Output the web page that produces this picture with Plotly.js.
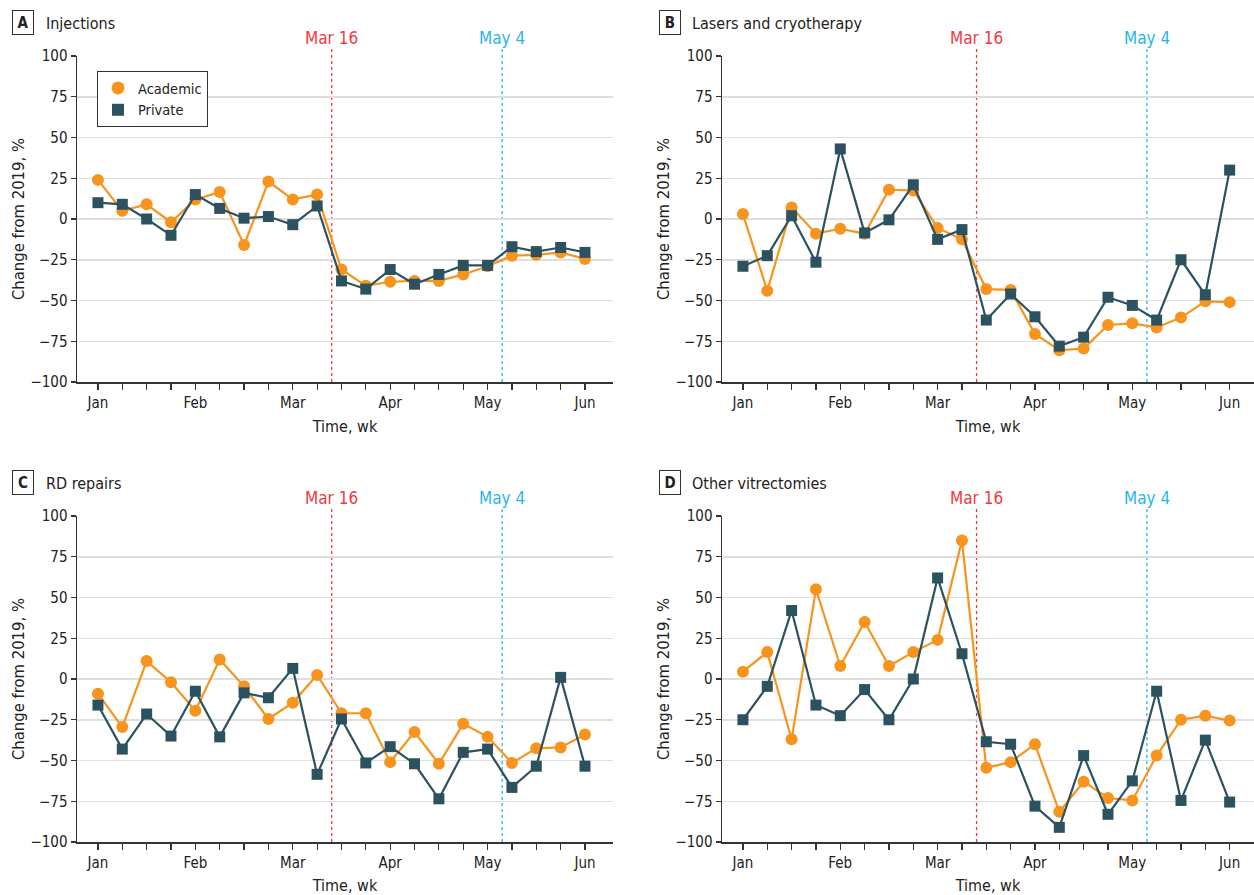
<!DOCTYPE html>
<html>
<head>
<meta charset="utf-8">
<script src="https://cdn.plot.ly/plotly-3.0.1.min.js"></script>
<style>html,body{margin:0;padding:0;background:#fff;}#chart{width:1254px;height:895px;}</style>
</head>
<body>
<div id="chart"></div>
<script>
// ---- data ----
const weeks = [0,1,2,3,4,5,6,7,8,9,10,11,12,13,14,15,16,17,18,19,20];
const tickLabels = ["Jan","","","","Feb","","","","Mar","","","","Apr","","","","May","","","","Jun"];
const panelLetters = ["A","B","C","D"];
const panelNames = ["Injections","Lasers and cryotherapy","RD repairs","Other vitrectomies"];
const seriesNames = ["Academic","Private"];
const eventLabels = ["Mar 16","May 4"];
const eventWeeks = [9.6, 16.6];

const injAcademic = [24,5,9,-2,12,16.5,-16,23,12,15,-31,-41,-38.5,-38,-38,-34,-29,-22.5,-22,-20.5,-24.5];
const injPrivate  = [10,9,0,-10,15,6.5,0.5,1.5,-3.5,8,-38,-43,-31,-40,-34,-28.5,-28.5,-17,-20,-17.5,-20.5];

const lasAcademic = [3,-44,7,-9,-6,-9,18,17.5,-5.5,-12.5,-43,-43.5,-70.5,-80.5,-79.5,-65,-64,-66.5,-60.5,-50.5,-51];
const lasPrivate  = [-29,-22.5,2,-26.5,43,-8.5,-0.5,21,-12.5,-6.5,-62,-46,-60,-78,-72.5,-48,-53,-62,-25,-46.5,30];

const rdAcademic = [-9,-29.5,11,-2,-19.5,12,-4.5,-24.5,-14.5,2.5,-21,-21,-51,-32.5,-52,-27.5,-35.5,-51.5,-42.5,-42,-34];
const rdPrivate  = [-16,-43,-21.5,-35,-7.5,-35.5,-8.5,-11.5,6.5,-58.5,-24.5,-51.5,-41.5,-52,-73.5,-45,-43,-66.5,-53.5,1,-53.5];

const vitAcademic = [4.5,16.5,-37,55,8,35,8,16.5,24,85,-54.5,-51,-40,-81.5,-63,-73,-74.5,-47,-25,-22.5,-25.5];
const vitPrivate  = [-25,-4.5,42,-16,-22.5,-6.5,-25,0,62,15.5,-38.5,-40,-78,-91,-47,-83,-62.5,-7.5,-74.5,-37.5,-75.5];

const academicSeries = [injAcademic, lasAcademic, rdAcademic, vitAcademic];
const privateSeries  = [injPrivate, lasPrivate, rdPrivate, vitPrivate];
const yTicks = [-100,-75,-50,-25,0,25,50,75,100];

// ---- styles ----
const W = 1254, H = 895;
const FONT = "'Liberation Sans Narrow', 'DejaVu Sans Condensed', Roboto, sans-serif";
const ORANGE = "#f7941d";
const TEAL = "#2c5260";
const RED = "#ee3a43";
const BLUE = "#29b5ec";
const TXT = "#222";

// panel pixel boxes: [left, right, top, bottom]
const boxes = [
  [77, 613, 56, 382],
  [722, 1254, 56, 382],
  [77, 613, 516, 842],
  [722, 1254, 516, 842]
];
const xRanges = [[-0.86, 21.15],[-0.86, 21.0],[-0.86, 21.15],[-0.86, 21.0]];

const traces = [];
const layout = {
  width: W, height: H,
  margin: {l:0, r:0, t:0, b:0},
  paper_bgcolor: "#fff", plot_bgcolor: "#fff",
  font: {family: FONT, size: 15, color: TXT},
  showlegend: true,
  legend: {
    x: 97/W, y: 1-71/H, xanchor: "left", yanchor: "top",
    bordercolor: "#333", borderwidth: 1, bgcolor: "#fff",
    font: {family: FONT, size: 14.5, color: TXT},
    itemwidth: 30, tracegroupgap: 0
  },
  shapes: [], annotations: []
};

for (let i = 0; i < 4; i++) {
  const s = i === 0 ? "" : String(i+1);
  const xa = "x" + s, ya = "y" + s;
  const [l, r, t, b] = boxes[i];
  layout["xaxis" + s] = {
    domain: [l/W, r/W], range: xRanges[i], anchor: ya,
    tickmode: "array", tickvals: weeks, ticktext: tickLabels,
    ticks: "outside", ticklen: 6, tickwidth: 1.2, tickcolor: "#333",
    showline: true, linecolor: "#333", linewidth: 1.5,
    showgrid: false, zeroline: false,
    tickfont: {family: FONT, size: 15, color: TXT},
    title: {text: "Time, wk", font: {family: FONT, size: 16, color: TXT}, standoff: 10},
    fixedrange: true
  };
  layout["yaxis" + s] = {
    domain: [1-b/H, 1-t/H], range: [-100, 100], anchor: xa,
    tickmode: "array", tickvals: yTicks,
    ticks: "outside", ticklen: 5, tickwidth: 1.2, tickcolor: "#333",
    showline: true, linecolor: "#333", linewidth: 1.5,
    showgrid: true, gridcolor: "#dedede", gridwidth: 1.5,
    zeroline: false,
    tickfont: {family: FONT, size: 15, color: TXT},
    title: {text: "Change from 2019, %", font: {family: FONT, size: 16.5, color: TXT}, standoff: 1},
    fixedrange: true
  };

  traces.push({
    x: weeks, y: academicSeries[i], xaxis: xa, yaxis: ya,
    type: "scatter", mode: "lines+markers", name: seriesNames[0], showlegend: false,
    line: {color: ORANGE, width: 2.2},
    marker: {symbol: "circle", size: 12, color: ORANGE}
  });
  traces.push({
    x: weeks, y: privateSeries[i], xaxis: xa, yaxis: ya,
    type: "scatter", mode: "lines+markers", name: seriesNames[1], showlegend: false,
    line: {color: TEAL, width: 2.2},
    marker: {symbol: "square", size: 11, color: TEAL}
  });

  // event lines
  const evColors = [RED, BLUE];
  for (let e = 0; e < 2; e++) {
    layout.shapes.push({
      type: "line", xref: xa, yref: ya + " domain",
      x0: eventWeeks[e], x1: eventWeeks[e], y0: 0, y1: 1.025,
      line: {color: evColors[e], width: 1.3, dash: "dot"}, layer: "below"
    });
    layout.annotations.push({
      xref: xa, yref: ya + " domain", x: eventWeeks[e], y: 1.055,
      xanchor: "center", yanchor: "middle", showarrow: false,
      text: eventLabels[e], font: {family: FONT, size: 17, color: evColors[e]}
    });
  }

  // panel label box + name
  const px = (i % 2 === 0) ? 0 : 646;
  const py = (i < 2) ? 0 : 460;
  layout.annotations.push({
    xref: "paper", yref: "paper", x: (px + 23.5)/W, y: 1 - (py + 22.5)/H,
    xanchor: "center", yanchor: "middle", showarrow: false,
    text: "<b>" + panelLetters[i] + "</b>", font: {family: FONT, size: 15, color: TXT},
    bordercolor: "#333", borderwidth: 1, borderpad: 3, width: 14, height: 17, bgcolor: "#fff"
  });
  layout.annotations.push({
    xref: "paper", yref: "paper", x: (px + 44)/W, y: 1 - (py + 23)/H,
    xanchor: "left", yanchor: "middle", showarrow: false,
    text: panelNames[i], font: {family: FONT, size: 16, color: TXT}
  });
}

// legend-only traces (markers only)
traces.push({x: [null], y: [null], type: "scatter", mode: "markers", name: seriesNames[0],
  marker: {symbol: "circle", size: 13, color: ORANGE}, showlegend: true});
traces.push({x: [null], y: [null], type: "scatter", mode: "markers", name: seriesNames[1],
  marker: {symbol: "square", size: 12, color: TEAL}, showlegend: true});

Plotly.newPlot("chart", traces, layout, {displayModeBar: false, staticPlot: true});
</script>
</body>
</html>
